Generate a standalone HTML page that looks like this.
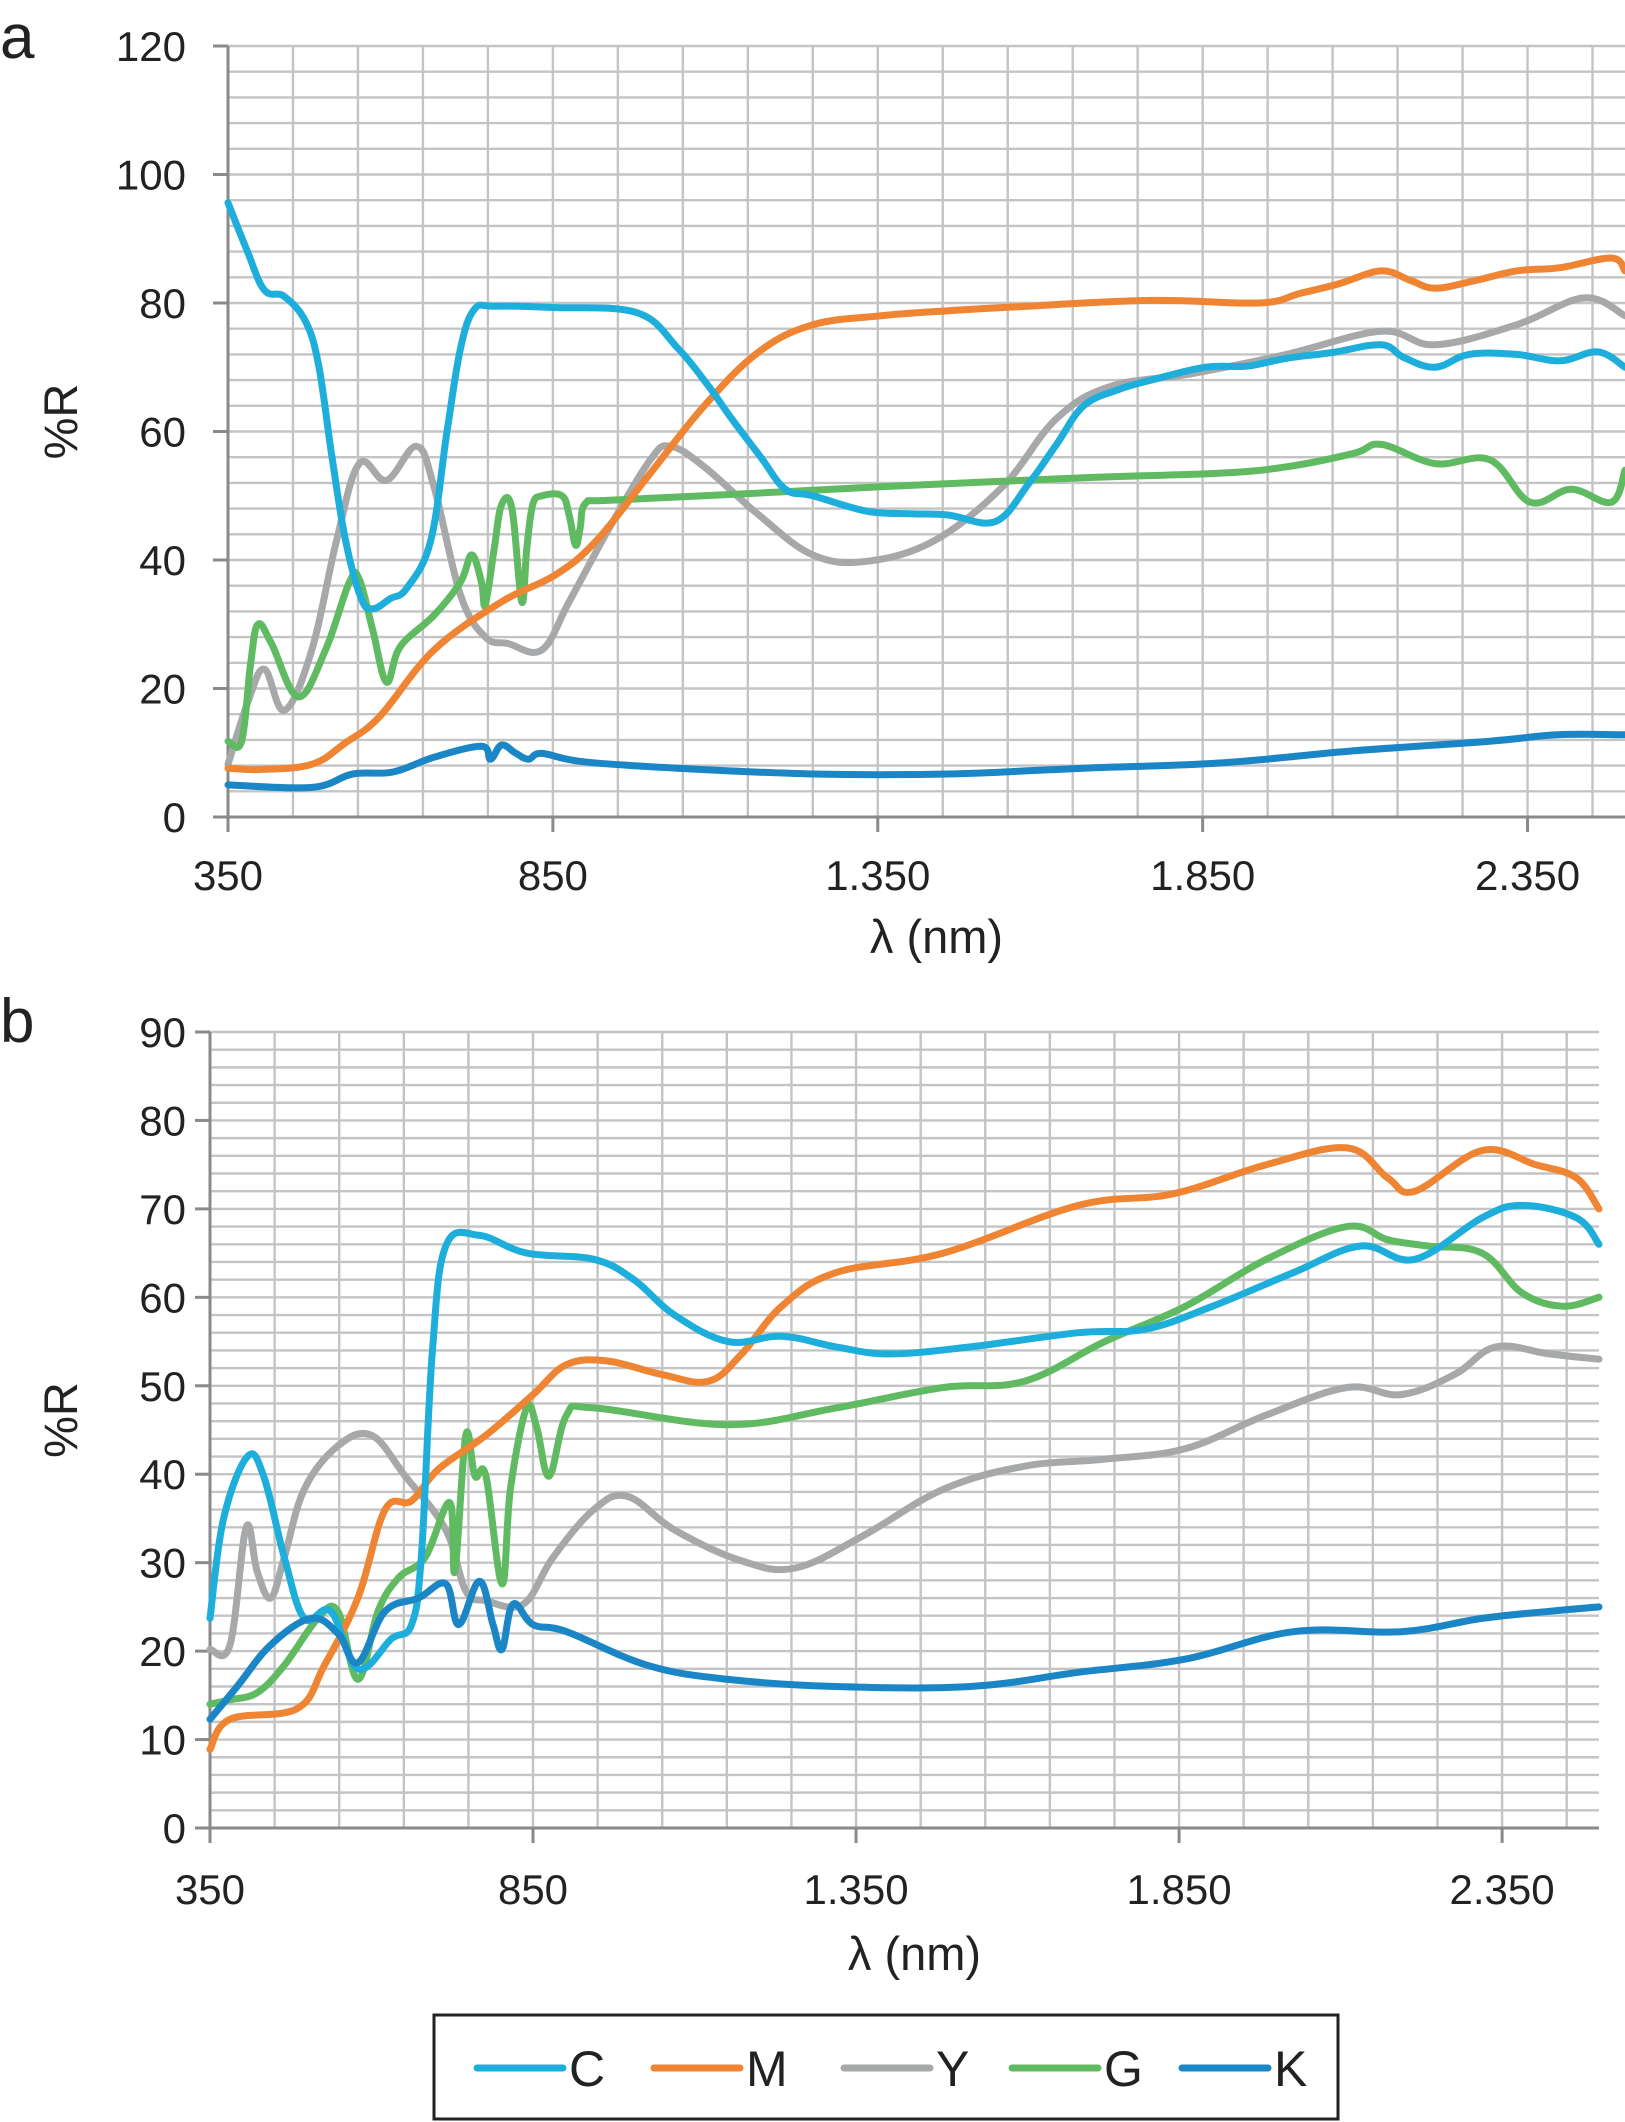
<!DOCTYPE html>
<html><head><meta charset="utf-8">
<style>
html,body{margin:0;padding:0;background:#fff;}
svg{display:block;font-family:"Liberation Sans",Arial,sans-serif;}
</style></head>
<body>
<svg id="chart" width="1625" height="2122" viewBox="0 0 1625 2122" xmlns="http://www.w3.org/2000/svg">
<g id="panelA"></g>
<g id="panelB"></g>
<g id="legend">
  <rect x="434" y="2015" width="904" height="104" fill="#fff" stroke="#222" stroke-width="3"/>
</g>
</svg>
<script>
// ---- data (wavelength nm, %R) ----
const aCw=[350,380,406,437,470,490,510,531,555,573,600,625,662,687,708,729,760,850,979,1042,1090,1125,1170,1208,1250,1333,1400,1458,1531,1583,1625,1667,1720,1771,1854,1920,1979,2050,2125,2160,2208,2260,2333,2400,2458,2500];
const aCv=[95.6,88,82,81,77,70,56,43,34,32.4,34,35.6,43,60,73,79,79.5,79.3,78.5,73,67,62,56,51,50,47.6,47.2,47,46,52,58,64,66.5,68,70,70.2,71.4,72.3,73.5,71.5,70,72,72,71,72.4,70];
const aMw=[350,400,479,530,583,667,771,854,917,1000,1083,1167,1250,1354,1460,1562,1771,1937,2000,2060,2125,2170,2208,2270,2333,2400,2479,2500];
const aMv=[7.6,7.4,8.2,11.5,15.6,26,33.5,37.7,43,53.5,64,72.4,76.6,78,78.8,79.4,80.4,80,81.5,83,85,83.5,82.3,83.5,85,85.5,87,85];
const aYw=[350,381,406,437,479,517,552,594,640,667,708,746,781,833,875,937,1000,1031,1083,1167,1250,1333,1437,1542,1625,1708,1833,1979,2125,2208,2333,2437,2500];
const aYv=[8.2,18,23,16.6,26,43,55,52.4,57.7,51.4,34.5,28,27,26,33.5,45,55.6,57.7,54.5,47,40.8,39.8,43,51.4,62,67,69,72,75.6,73.5,76.6,80.8,78];
const aGw=[350,371,385,396,417,458,500,537,552,573,594,615,667,708,725,740,746,760,771,787,802,810,819,833,864,875,885,892,900,937,1146,1354,1667,1875,1979,2083,2125,2208,2292,2354,2417,2479,2500];
const aGv=[11.8,11.8,24,30,27,18.7,26,36.6,37,29,21,26.5,31.4,36.6,40.8,36.6,33,42,48.6,48,33.5,42,48.6,50,50,47,42.3,45,48.8,49.3,50.3,51.4,52.8,53.5,54.5,56.6,58,55,55.6,49,51,49,54];
const aKw=[350,479,542,604,667,740,754,771,792,812,833,896,1042,1250,1458,1667,1875,2083,2292,2396,2500];
const aKv=[5,4.6,6.7,7,9.3,11,9,11.2,10,9,9.9,8.6,7.6,6.7,6.7,7.6,8.4,10.3,11.8,12.8,12.8];

const bCw=[350,371,408,433,465,496,537,579,631,662,677,694,715,767,840,944,1006,1069,1152,1235,1319,1402,1527,1694,1798,1902,2027,2131,2215,2319,2381,2465,2500];
const bCv=[23.7,35,42,39.8,30.6,23.7,24.5,18,21.4,23,30.6,53.6,65.8,67,65,64.3,62,58,55,55.6,54.4,53.6,54.4,56,56.4,59,62.8,65.8,64.3,69,70.4,69,66];
const bMw=[350,381,485,527,579,621,662,704,777,850,902,965,1048,1121,1173,1235,1319,1485,1694,1840,1985,2110,2173,2215,2319,2402,2465,2500];
const bMv=[8.9,12.3,13.5,18.4,26,36,37,40.6,44.4,49,52.4,52.8,51.3,50.5,53.6,59,62.8,65,70.4,71.7,75,76.9,73.5,72,76.6,75,73.5,70];
const bYw=[350,381,406,423,444,465,496,548,600,652,715,746,777,835,881,944,996,1069,1173,1256,1360,1485,1610,1735,1860,1985,2110,2194,2277,2340,2423,2500];
const bYv=[20.2,20.7,34,29,26,30.6,38.3,43.2,44.4,39.8,33.7,26.8,25.7,25.3,30.6,36,37.5,33.7,30.2,29.4,33,38.3,40.9,41.7,42.9,46.7,49.8,49,51.3,54.4,53.6,53];
const bGw=[350,381,423,465,517,548,579,610,642,683,721,729,746,760,777,802,815,840,856,875,902,944,1152,1319,1485,1610,1735,1860,1985,2110,2173,2235,2319,2381,2444,2500];
const bGv=[14,14.5,15.3,18.4,23.7,24.5,16.8,24.5,28.3,30.6,36.8,29,44.4,39.8,39.8,27.6,38.3,47.5,45.2,39.8,46.7,47.5,45.6,47.5,49.8,50.5,55,59,64.3,68,66.5,65.8,65,60.5,59,60];
const bKw=[350,392,444,506,548,579,621,673,715,735,767,788,802,819,850,902,1027,1152,1319,1527,1694,1860,2027,2194,2319,2423,2500];
const bKv=[12.3,16,20.7,23.7,22,18.7,24.5,26,27.6,23,27.9,23,20.2,25.3,23,22.2,18.4,16.8,16,16,17.6,19.1,22.2,22.2,23.7,24.5,25];

const aYTicks=["0","20","40","60","80","100","120"];
const bYTicks=["0","10","20","30","40","50","60","70","80","90"];
const xTickLabels=["350","850","1.350","1.850","2.350"];
const xTickValues=[350,850,1350,1850,2350];

const colors={C:"#1eaedb",M:"#ef8433",Y:"#a6a8aa",G:"#60ba62",K:"#1a86c6"};
const NS="http://www.w3.org/2000/svg";
function mk(parent,tag,attrs){const e=document.createElementNS(NS,tag);for(const k in attrs)e.setAttribute(k,attrs[k]);parent.appendChild(e);return e;}

function smoothPath(pts){
  let d="M"+pts[0][0].toFixed(1)+","+pts[0][1].toFixed(1);
  for(let i=0;i<pts.length-1;i++){
    const p0=pts[Math.max(0,i-1)],p1=pts[i],p2=pts[i+1],p3=pts[Math.min(pts.length-1,i+2)];
    const t=0.18;
    const c1=[p1[0]+(p2[0]-p0[0])*t,p1[1]+(p2[1]-p0[1])*t];
    const c2=[p2[0]-(p3[0]-p1[0])*t,p2[1]-(p3[1]-p1[1])*t];
    d+=" C"+c1[0].toFixed(1)+","+c1[1].toFixed(1)+" "+c2[0].toFixed(1)+","+c2[1].toFixed(1)+" "+p2[0].toFixed(1)+","+p2[1].toFixed(1);
  }
  return d;
}

function panel(g,cfg){
  const {left,top,right,bottom,ymax,minorStep,majorStep,yTicks,series,letter,letterY,xLabelY,xTitleY}=cfg;
  const xs=v=>left+(v-350)/(2500-350)*(right-left);
  const ys=v=>bottom-(v/ymax)*(bottom-top);
  const grid=mk(g,"g",{});
  
  
  for(let v=minorStep;v<=ymax+1e-6;v+=minorStep){
    mk(grid,"line",{x1:left,x2:right,y1:ys(v),y2:ys(v),stroke:"#c4c4c4","stroke-width":2.4});
  }
  for(let w=450;w<2500;w+=100){
    mk(grid,"line",{x1:xs(w),x2:xs(w),y1:top,y2:bottom,stroke:"#c4c4c4","stroke-width":2.4});
  }
  mk(g,"line",{x1:left,x2:left,y1:top,y2:bottom+1,stroke:"#8a8a8a","stroke-width":3});
  mk(g,"line",{x1:left,x2:right,y1:bottom,y2:bottom,stroke:"#8a8a8a","stroke-width":3});
  yTicks.forEach((lab,i)=>{
    const v=i*majorStep;
    mk(g,"line",{x1:left-15,x2:left,y1:ys(v),y2:ys(v),stroke:"#8a8a8a","stroke-width":3});
    const t=mk(g,"text",{x:186,y:ys(v)+15,"text-anchor":"end","font-size":42,fill:"#222"});
    
    
    t.textContent=lab;
  });
  xTickValues.forEach((w,i)=>{
    mk(g,"line",{x1:xs(w),x2:xs(w),y1:bottom,y2:bottom+15,stroke:"#8a8a8a","stroke-width":3});
    const t=mk(g,"text",{x:xs(w),y:xLabelY,"text-anchor":"middle","font-size":42,fill:"#222"});
    
    
    t.textContent=xTickLabels[i];
  });
  const xt=mk(g,"text",{x:(left+right)/2+10,y:xTitleY,"text-anchor":"middle","font-size":47,fill:"#222"});
  
  
  xt.textContent="λ (nm)";
  const cy=(top+bottom)/2-10;
  const yt=mk(g,"text",{x:0,y:0,transform:"translate(77,"+cy+") rotate(-90)","text-anchor":"middle","font-size":47,fill:"#222"});
  
  
  yt.textContent="%R";
  const lt=mk(g,"text",{x:0,y:letterY,"font-size":62,fill:"#222"});
  
  
  lt.textContent=letter;
  series.forEach(([key,w,v])=>{
    const pts=w.map((wl,i)=>[xs(wl),ys(v[i])]);
    const p=mk(g,"path",{d:smoothPath(pts),fill:"none",stroke:colors[key],"stroke-width":7,"stroke-linejoin":"round","stroke-linecap":"round"});
    
    
  });
}

panel(document.getElementById("panelA"),{left:228,top:46,right:1625,bottom:817,ymax:120,minorStep:4,majorStep:20,yTicks:aYTicks,letter:"a",letterY:58,xLabelY:890,xTitleY:953,
  series:[["Y",aYw,aYv],["G",aGw,aGv],["M",aMw,aMv],["C",aCw,aCv],["K",aKw,aKv]]});
panel(document.getElementById("panelB"),{left:210,top:1032,right:1599,bottom:1828,ymax:90,minorStep:2,majorStep:10,yTicks:bYTicks,letter:"b",letterY:1042,xLabelY:1904,xTitleY:1970,
  series:[["Y",bYw,bYv],["G",bGw,bGv],["M",bMw,bMv],["C",bCw,bCv],["K",bKw,bKv]]});

const leg=document.getElementById("legend");
const legKeys=["C","M","Y","G","K"];
const legX=[477,654,844,1012,1182];
legKeys.forEach((k,i)=>{
  const ent=mk(leg,"g",{});
  
  
  mk(ent,"line",{x1:legX[i],x2:legX[i]+86,y1:2068,y2:2068,stroke:colors[k],"stroke-width":7,"stroke-linecap":"round"});
  const t=mk(ent,"text",{x:legX[i]+92,y:2086,"font-size":50,fill:"#222"});
  t.textContent=k;
});
</script>
</body></html>
